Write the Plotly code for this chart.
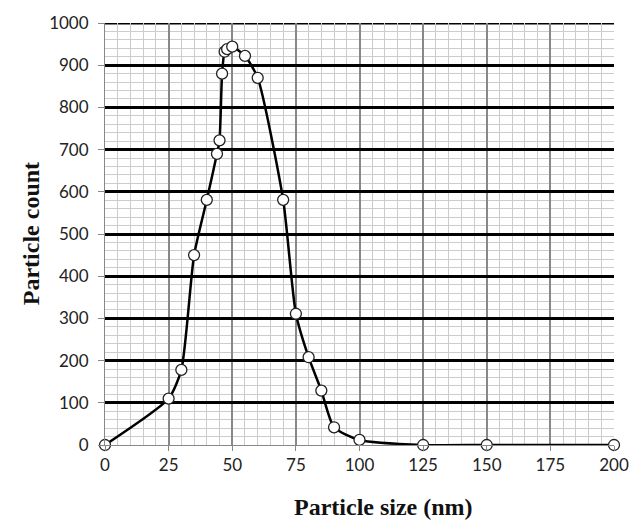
import plotly.graph_objects as go

size_nm = [0, 25, 30, 35, 40, 44, 45, 46, 47, 48, 50, 55, 60, 70, 75, 80, 85, 90, 100, 125, 150, 200]
count = [0, 110, 178, 450, 581, 690, 722, 880, 932, 938, 944, 922, 870, 581, 311, 208, 129, 42, 12, 0, 0, 0]

x_ticks = [0, 25, 50, 75, 100, 125, 150, 175, 200]
y_ticks = [0, 100, 200, 300, 400, 500, 600, 700, 800, 900, 1000]

fig = go.Figure()
fig.add_trace(go.Scatter(
    x=size_nm, y=count, mode="lines+markers",
    line=dict(color="black", width=2.5, shape="spline", smoothing=0.6),
    marker=dict(symbol="circle", size=11, color="white", line=dict(color="#222", width=1.3)),
    cliponaxis=False, showlegend=False,
))

tickfont = dict(family="Lato, 'Open Sans', sans-serif", size=17, color="#222")
titlefont = dict(family="'Liberation Serif', 'Times New Roman', serif", size=24, color="#111")

fig.add_shape(type="line", xref="paper", x0=0, x1=1, yref="y", y0=y_ticks[-1], y1=y_ticks[-1],
              line=dict(color="black", width=2.8), layer="below")

fig.add_annotation(text="<b>Particle size (nm)</b>", xref="paper", yref="paper",
                   x=0.548, y=-0.148, xanchor="center", yanchor="middle",
                   showarrow=False, font=titlefont)
fig.add_annotation(text="<b>Particle count</b>", xref="paper", yref="paper",
                   x=-0.145, y=0.5, xanchor="center", yanchor="middle", textangle=-90,
                   showarrow=False, font=titlefont)

fig.update_layout(
    width=641, height=522,
    margin=dict(l=105, r=24, t=20, b=77),
    paper_bgcolor="white", plot_bgcolor="white",
    xaxis=dict(
        range=[0, 200], tickvals=x_ticks, ticktext=[str(v) for v in x_ticks],
        showgrid=True, gridcolor="#888", gridwidth=1.5,
        minor=dict(dtick=5, tick0=0, showgrid=True, gridcolor="#cccccc", gridwidth=1),
        zeroline=False, showline=True, linecolor="#888", linewidth=1,
        ticks="outside", ticklen=5, tickcolor="#888",
        tickfont=tickfont,
    ),
    yaxis=dict(
        range=[0, 1000], tickvals=y_ticks, ticktext=[str(v) for v in y_ticks],
        showgrid=True, gridcolor="black", gridwidth=2.8,
        minor=dict(dtick=20, tick0=0, showgrid=True, gridcolor="#cccccc", gridwidth=1),
        zeroline=False, showline=True, linecolor="#888", linewidth=1,
        ticks="outside", ticklen=6, tickcolor="#888",
        ticklabelstandoff=6,
        tickfont=tickfont,
    ),
)

fig.write_html("out.html")
